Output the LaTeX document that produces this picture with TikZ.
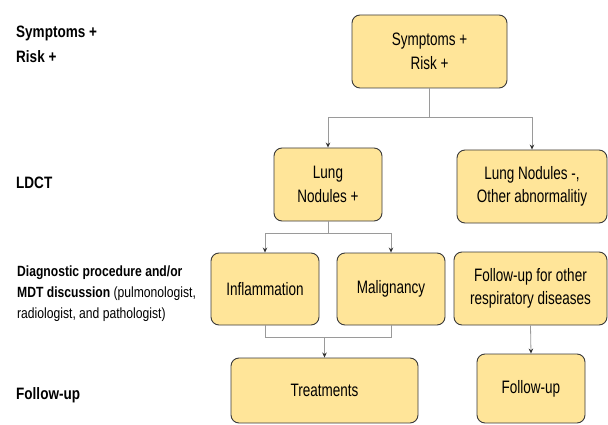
\documentclass[tikz,border=0pt]{standalone}
\usepackage{fontspec}
\setmainfont[FakeStretch=0.75]{Liberation Sans}
\newfontfamily\labfont[FakeStretch=0.82]{Liberation Sans}
\usetikzlibrary{arrows.meta}
\definecolor{boxfill}{HTML}{FFE599}
\definecolor{boxdraw}{HTML}{3A3A3A}
\definecolor{linegray}{HTML}{9A9A9A}
\tikzset{
  box/.style={draw=boxdraw, line width=0.9pt, fill=boxfill, rounded corners=8pt,
    align=center, inner sep=0pt, font=\fontsize{18}{23.5}\selectfont},
  lab/.style={anchor=base west, inner sep=0pt, font=\labfont\fontsize{16.5}{21}\selectfont},
  labsmall/.style={lab, font=\labfont\fontsize{14.8}{21}\selectfont},
  conn/.style={draw=linegray, line width=0.8pt},
  arr/.style={conn, -{Stealth[length=5pt,width=4.5pt,color=black!80]}}
}
\begin{document}
\begin{tikzpicture}[x=1pt,y=-1pt]
\useasboundingbox (0,0) rectangle (608,425);
\fill[white] (0,0) rectangle (608,425);

% left labels
\node[lab] (l1a) at (16,38) {\textbf{Symptoms +}};
\node[lab] (l1b) at (16,62.5) {\textbf{Risk +}};
\node[lab] (l2) at (16,188.5) {\textbf{LDCT}};
\node[labsmall] (l3a) at (17,276) {\textbf{Diagnostic procedure and/or}};
\node[labsmall] (l3b) at (17,297) {\textbf{MDT discussion} (pulmonologist,};
\node[labsmall] (l3c) at (17,318) {radiologist, and pathologist)};
\node[lab] (l4) at (16,399) {\textbf{Follow-up}};

% boxes
\node[box, minimum width=155pt, minimum height=73pt] (b1) at (429.5,51.5) {Symptoms +\\Risk +};
\node[box, minimum width=108pt, minimum height=73pt] (b2) at (328,184.5) {Lung\\Nodules +};
\node[box, minimum width=150pt, minimum height=73pt] (b3) at (532,186.5) {Lung Nodules -,\\Other abnormalitiy};
\node[box, minimum width=108pt, minimum height=72pt] (b4) at (265,289) {Inflammation};
\node[box, minimum width=108pt, minimum height=72pt] (b5) at (391,289) {Malignancy};
\node[box, minimum width=153pt, minimum height=73pt] (b6) at (530.5,288.5) {Follow-up for other\\respiratory diseases};
\node[box, minimum width=187pt, minimum height=65pt] (b7) at (324.5,390.5) {Treatments};
\node[box, minimum width=108pt, minimum height=69pt] (b8) at (531,388.5) {Follow-up};

% connectors
\draw[conn] (b1.south) -- ++(0,29) coordinate (j1);
\draw[conn] (j1 -| b2.north) -- (j1 -| b3.north);
\draw[arr] (j1 -| b2.north) -- (b2.north);
\draw[arr] (j1 -| b3.north) -- (b3.north);

\draw[conn] (b2.south) -- ++(0,12) coordinate (j2);
\draw[conn] (j2 -| b4.north) -- (j2 -| b5.north);
\draw[arr] (j2 -| b4.north) -- (b4.north);
\draw[arr] (j2 -| b5.north) -- (b5.north);

\draw[conn] (b4.south) -- ++(0,12) coordinate (j3) -| (b5.south);
\draw[arr] (j3 -| b7.north) -- (b7.north);

\draw[arr] (b6.south) -- (b8.north);
\end{tikzpicture}
\end{document}
